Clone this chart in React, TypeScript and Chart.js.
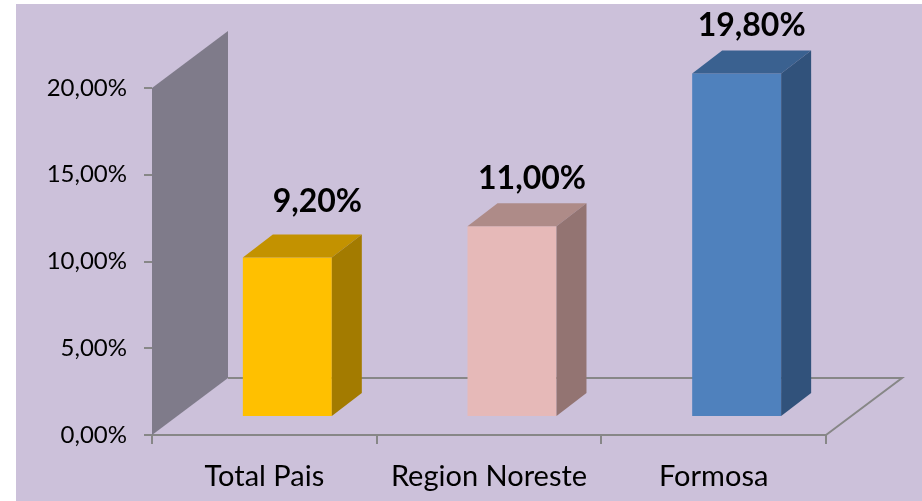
import React, { useEffect, useRef } from 'react';
import { Chart, registerables } from 'chart.js';

Chart.register(...registerables);

// ---- data ----
const categories = ['Total Pais', 'Region Noreste', 'Formosa'];
const values = [9.2, 11.0, 19.8];
const valueLabels = ['9,20%', '11,00%', '19,80%'];
const yTickValues = [0, 5, 10, 15, 20];
const yTickLabels = ['0,00%', '5,00%', '10,00%', '15,00%', '20,00%'];

// ---- style ----
const frontColors = ['#FFC000', '#E6B9B8', '#4F81BD'];
const topColors = ['#C39200', '#AE8B88', '#3A6190'];
const sideColors = ['#A37B00', '#937472', '#31527B'];
const labelNudge = [[10, -6], [0, 3], [-5, 2]];

const W = 922;
const H = 501;
const WALL_DX = 76;
const WALL_DY = 57;
const BAR_SHIFT_X = 23;
const BAR_SHIFT_Y = -18;
const BAR_DX = 30;
const BAR_DY = 23;
const GRAY = '#878787';
const BG = '#CCC1DA';
const WALL = '#7F7B8A';

const threeD = {
  id: 'threeD',
  beforeDraw(chart: any) {
    const ctx = chart.ctx;
    ctx.save();
    ctx.fillStyle = '#ffffff';
    ctx.fillRect(0, 0, chart.width, chart.height);
    ctx.fillStyle = BG;
    ctx.fillRect(16, 4, chart.width - 16, chart.height - 4);
    ctx.restore();
  },
  beforeDatasetsDraw(chart: any) {
    const ctx = chart.ctx;
    const a = chart.chartArea;
    const ys = chart.scales.y;
    const top = ys.getPixelForValue(yTickValues[yTickValues.length - 1]);
    const bottom = ys.getPixelForValue(yTickValues[0]);
    ctx.save();
    ctx.fillStyle = WALL;
    ctx.beginPath();
    ctx.moveTo(a.left, top);
    ctx.lineTo(a.left + WALL_DX, top - WALL_DY);
    ctx.lineTo(a.left + WALL_DX, bottom - WALL_DY);
    ctx.lineTo(a.left, bottom);
    ctx.closePath();
    ctx.fill();
    ctx.strokeStyle = GRAY;
    ctx.lineWidth = 2;
    ctx.beginPath();
    ctx.moveTo(a.left + WALL_DX, bottom - WALL_DY);
    ctx.lineTo(a.right + WALL_DX, bottom - WALL_DY);
    ctx.lineTo(a.right, bottom);
    ctx.stroke();
    ctx.restore();
    ctx.save();
    ctx.translate(BAR_SHIFT_X, BAR_SHIFT_Y);
  },
  afterDatasetsDraw(chart: any) {
    const ctx = chart.ctx;
    ctx.restore();
    const meta = chart.getDatasetMeta(0);
    ctx.save();
    meta.data.forEach((bar: any, i: number) => {
      const p = bar.getProps(['x', 'y', 'base', 'width'], true);
      const l = p.x - p.width / 2 + BAR_SHIFT_X;
      const r = p.x + p.width / 2 + BAR_SHIFT_X;
      const t = p.y + BAR_SHIFT_Y;
      const b = p.base + BAR_SHIFT_Y;
      ctx.fillStyle = topColors[i];
      ctx.beginPath();
      ctx.moveTo(l, t);
      ctx.lineTo(l + BAR_DX, t - BAR_DY);
      ctx.lineTo(r + BAR_DX, t - BAR_DY);
      ctx.lineTo(r, t);
      ctx.closePath();
      ctx.fill();
      ctx.fillStyle = sideColors[i];
      ctx.beginPath();
      ctx.moveTo(r, t);
      ctx.lineTo(r + BAR_DX, t - BAR_DY);
      ctx.lineTo(r + BAR_DX, b - BAR_DY);
      ctx.lineTo(r, b);
      ctx.closePath();
      ctx.fill();
      ctx.fillStyle = '#000000';
      ctx.font = 'bold 32px Lato';
      ctx.textAlign = 'center';
      ctx.textBaseline = 'middle';
      const cx = p.x + BAR_SHIFT_X + 20 + labelNudge[i][0];
      const cy = t - 50 + labelNudge[i][1];
      ctx.fillText(valueLabels[i], cx, cy);
    });
    ctx.restore();
  },
};

export default function App() {
  const ref = useRef<HTMLCanvasElement>(null);
  useEffect(() => {
    if (!ref.current) return;
    const chart = new Chart(ref.current, {
      type: 'bar',
      data: {
        labels: categories,
        datasets: [
          {
            label: 'Serie',
            data: values,
            backgroundColor: frontColors,
            borderWidth: 0,
            clip: false as any,
            barPercentage: 0.396,
            categoryPercentage: 1,
          },
        ],
      },
      options: {
        responsive: false,
        animation: false,
        layout: { padding: { top: 88, right: 96, left: 0, bottom: 0 } },
        plugins: { legend: { display: false }, tooltip: { enabled: false } },
        scales: {
          x: {
            grid: {
              display: true,
              drawOnChartArea: false,
              drawTicks: true,
              tickLength: 9,
              color: GRAY,
              lineWidth: 2,
              offset: true,
            },
            border: { display: true, color: GRAY, width: 2 },
            ticks: {
              font: { family: 'Lato', size: 29 },
              color: '#000000',
              padding: 15,
              maxRotation: 0,
              autoSkip: false,
            },
            afterFit(s: any) {
              s.height = 66;
            },
          },
          y: {
            min: yTickValues[0],
            max: yTickValues[yTickValues.length - 1],
            grid: {
              drawOnChartArea: false,
              tickLength: 8,
              color: GRAY,
              lineWidth: 2,
            },
            border: { display: false },
            ticks: {
              stepSize: 5,
              font: { family: 'Lato', size: 24 },
              color: '#000000',
              padding: 17,
              callback: (v: any) => {
                const k = yTickValues.indexOf(Number(v));
                return k >= 0 ? yTickLabels[k] : '';
              },
            },
            afterFit(s: any) {
              s.width = 152;
            },
          },
        },
      },
      plugins: [threeD],
    });
    return () => chart.destroy();
  }, []);
  return (
    <div style={{ position: 'fixed', left: 0, top: 0, width: W, height: H }}>
      <canvas ref={ref} width={W} height={H} style={{ display: 'block', width: W, height: H }} />
    </div>
  );
}
